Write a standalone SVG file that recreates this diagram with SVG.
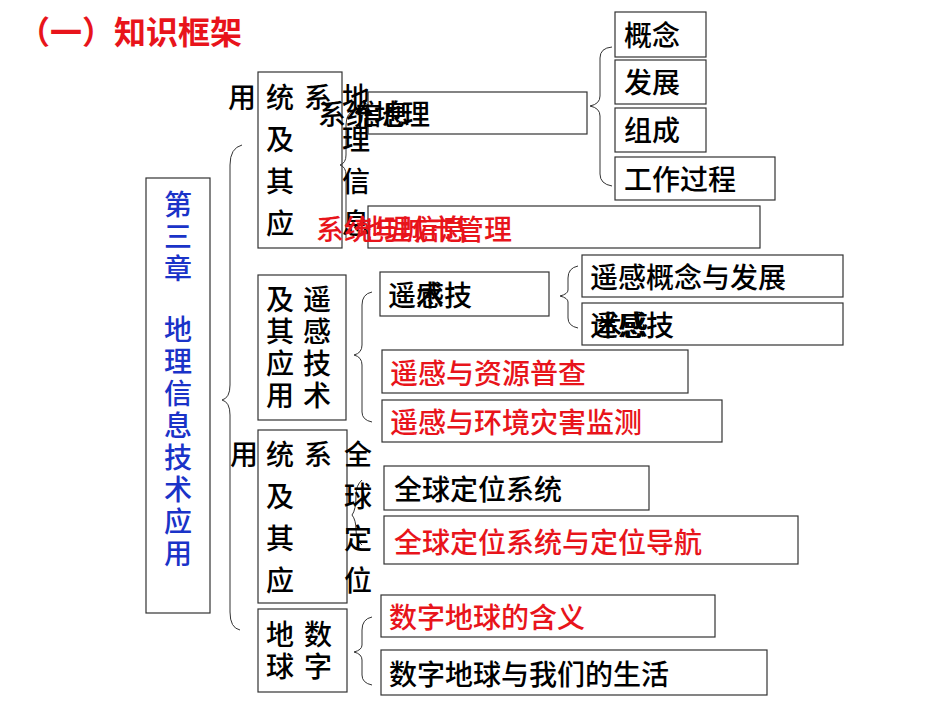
<svg xmlns="http://www.w3.org/2000/svg" width="950" height="713" viewBox="0 0 950 713">
<style>
text{font-family:"Noto Sans CJK SC",sans-serif;font-size:28px;font-weight:500;fill:#000}
.r{fill:#e8141b}
.b{fill:#1a33c8}
.box{fill:none;stroke:#333;stroke-width:1.2}
.br{fill:none;stroke:#333;stroke-width:1}
</style>
<rect width="950" height="713" fill="#fff"/>
<text x="18" y="44" class="r" style="font-size:32px;font-weight:bold">（一）知识框架</text>
<g id="chapter">
<rect class="box" x="146" y="178" width="64" height="435"/>
<text class="b" x="164" y="215">第</text><text class="b" x="164" y="247">三</text><text class="b" x="164" y="279">章</text>
<text class="b" x="164" y="340">地</text><text class="b" x="164" y="372">理</text><text class="b" x="164" y="404">信</text><text class="b" x="164" y="436">息</text><text class="b" x="164" y="468">技</text><text class="b" x="164" y="500">术</text><text class="b" x="164" y="532">应</text><text class="b" x="164" y="564">用</text>
</g>
<g id="connectors">
<path class="br" d="M242,145 Q230,148 230,165 L230,385 Q230,398 222,400 Q230,402 230,415 L230,612 Q230,628 240,630"/>
<path class="br" d="M356,110 Q346,112 346,125 L346,155 Q346,163 340,165 Q346,167 346,175 L346,238"/>
<path class="br" d="M612,47 Q600,48 600,58 L600,96 Q600,104 590,106 Q600,108 600,116 L600,174 Q600,184 612,186"/>
<path class="br" d="M372,292 Q362,294 362,305 L362,345 Q362,353 354,355 Q362,357 362,365 L362,412 Q362,420 372,422"/>
<path class="br" d="M578,266 Q568,268 568,278 L568,290 Q568,294 560,296 Q568,298 568,302 L568,318 Q568,326 578,328"/>
<path class="br" d="M362,480 Q356,485 356,495 Q356,510 352,515 Q356,520 356,530 Q356,540 362,545"/>
<path class="br" d="M372,617 Q362,619 362,630 L362,645 Q362,650 354,652 Q362,654 362,660 L362,675 Q362,683 372,685"/>
</g>
<g id="gis">
<rect class="box" x="258" y="72" width="84" height="176"/>
<text x="228" y="108">用</text>
<text x="266" y="108">统</text><text x="266" y="150">及</text><text x="266" y="192">其</text><text x="266" y="234">应</text>
<text x="304" y="108">系</text>
<text x="342" y="108">地</text><text x="342" y="150">理</text><text x="342" y="192">信</text><text x="342" y="234">息</text>
</g>
<g id="gis1"><rect class="box" x="368" y="92" width="219" height="42"/><text x="318" y="125">系统地理</text><text x="354" y="125">信息</text></g>
<g id="gis2"><rect class="box" x="368" y="206" width="392" height="42"/><text class="r" x="316" y="240">系统与城市管理</text><text class="r" x="356" y="240">地理信息</text></g>
<g id="c1"><rect class="box" x="615" y="12" width="91" height="45"/><text x="624" y="46">概念</text></g>
<g id="c2"><rect class="box" x="615" y="60" width="91" height="44"/><text x="624" y="93">发展</text></g>
<g id="c3"><rect class="box" x="615" y="108" width="91" height="44"/><text x="624" y="141">组成</text></g>
<g id="c4"><rect class="box" x="615" y="157" width="160" height="43"/><text x="624" y="190">工作过程</text></g>
<g id="rs">
<rect class="box" x="258" y="275" width="88" height="145"/>
<text x="266" y="310">及</text><text x="266" y="342">其</text><text x="266" y="374">应</text><text x="266" y="406">用</text>
<text x="303" y="310">遥</text><text x="303" y="342">感</text><text x="303" y="374">技</text><text x="303" y="406">术</text>
</g>
<g id="rs1"><rect class="box" x="380" y="272" width="169" height="44"/><text x="388" y="306">遥感技</text><text x="416" y="306">术</text></g>
<g id="rs2"><rect class="box" x="582" y="255" width="261" height="42"/><text x="590" y="288">遥感概念与发展</text></g>
<g id="rs3"><rect class="box" x="582" y="303" width="261" height="42"/><text x="590" y="336">遥感技</text><text x="594" y="336">术</text><text x="620" y="336">感</text></g>
<g id="rs4"><rect class="box" x="382" y="350" width="306" height="43"/><text class="r" x="390" y="384">遥感与资源普查</text></g>
<g id="rs5"><rect class="box" x="382" y="400" width="340" height="42"/><text class="r" x="390" y="433">遥感与环境灾害监测</text></g>
<g id="gps">
<rect class="box" x="258" y="430" width="89" height="173"/>
<text x="230" y="465">用</text>
<text x="266" y="465">统</text><text x="266" y="507">及</text><text x="266" y="549">其</text><text x="266" y="591">应</text>
<text x="304" y="465">系</text>
<text x="344" y="465">全</text><text x="344" y="507">球</text><text x="344" y="549">定</text><text x="344" y="591">位</text>
</g>
<g id="gps1"><rect class="box" x="384" y="466" width="265" height="44"/><text x="394" y="500">全球定位系统</text></g>
<g id="gps2"><rect class="box" x="384" y="516" width="414" height="48"/><text class="r" x="394" y="553">全球定位系统与定位导航</text></g>
<g id="de">
<rect class="box" x="258" y="609" width="89" height="83"/>
<text x="266" y="645">地</text><text x="266" y="677">球</text>
<text x="304" y="645">数</text><text x="304" y="677">字</text>
</g>
<g id="de1"><rect class="box" x="381" y="595" width="334" height="42"/><text class="r" x="389" y="628">数字地球的含义</text></g>
<g id="de2"><rect class="box" x="381" y="650" width="386" height="45"/><text x="389" y="685">数字地球与我们的生活</text></g>
</svg>
